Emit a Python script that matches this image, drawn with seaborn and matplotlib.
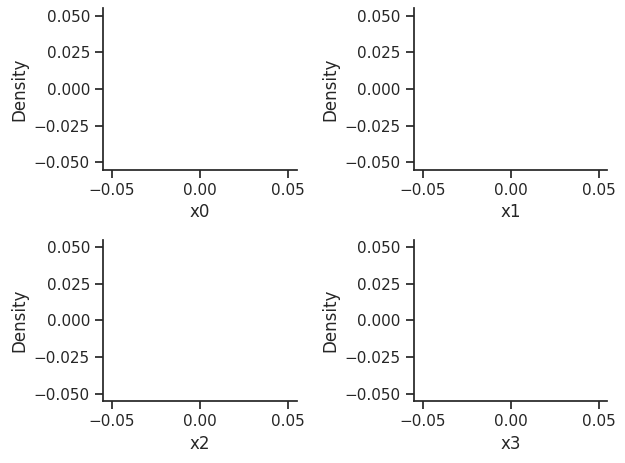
import numpy as np
import pandas as pd
import matplotlib
matplotlib.use("Agg")
import matplotlib.pyplot as plt
import seaborn as sns

# columnas sin valores (las graficas salen vacias)
columnas = ["x0", "x1", "x2", "x3"]
valores = {c: [] for c in columnas}

sns.set_theme(style="ticks")

df = pd.DataFrame({c: pd.Series(valores[c], dtype=float) for c in columnas})

fig, axes = plt.subplots(2, 2, figsize=(6.25, 4.63), dpi=100)
for ax, col in zip(axes.flat, columnas):
    sns.kdeplot(data=df, x=col, ax=ax)
    ax.set_xlabel(col)
    ax.set_ylabel("Density")
    ax.set_xlim(-0.055, 0.055)
    ax.set_ylim(-0.055, 0.055)
    ax.set_xticks([-0.05, 0.0, 0.05])
    ax.set_yticks([-0.05, -0.025, 0.0, 0.025, 0.05])

sns.despine()
plt.subplots_adjust(left=0.165, right=0.9717, top=0.982, bottom=0.134,
                    wspace=0.607, hspace=0.433)
plt.savefig("out.png", dpi=100)
